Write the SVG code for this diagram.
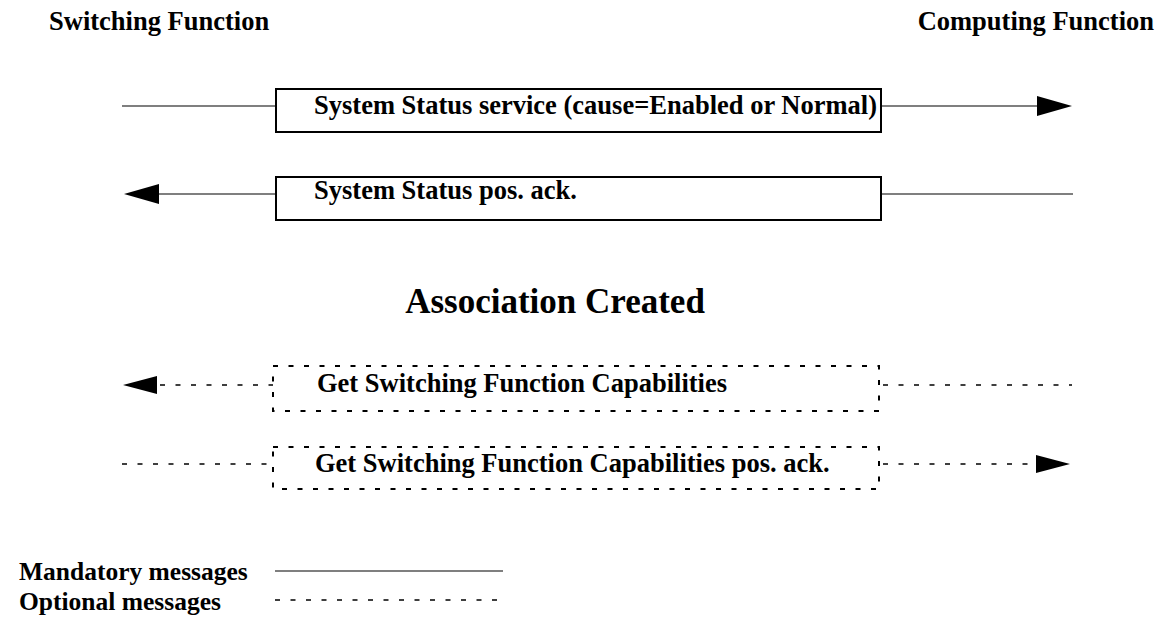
<svg xmlns="http://www.w3.org/2000/svg" width="1166" height="619" viewBox="0 0 1166 619">
<style>
.t{font-family:"Liberation Serif","Times New Roman",serif;font-weight:bold;fill:#000}
.f{font-size:26.5px}
.box{fill:none;stroke:#000;stroke-width:2}
.dbox{fill:none;stroke:#000;stroke-width:2;stroke-dasharray:5 10.5}
.ln{stroke:#000;stroke-width:1.2;fill:none}
.dl{stroke:#000;stroke-width:1.5;fill:none;stroke-dasharray:5 10.5}
.ah{fill:#000}
</style>
<rect width="1166" height="619" fill="#fff"/>
<g id="hdr-switching"><text class="t f" x="49" y="30">Switching Function</text></g>
<g id="hdr-computing"><text class="t f" x="1154" y="30" text-anchor="end">Computing Function</text></g>
<g id="msg1"><rect class="box" x="276" y="89" width="605" height="43"/><text class="t f" x="314" y="114">System Status service (cause=Enabled or Normal)</text></g>
<g id="msg2"><rect class="box" x="276" y="177" width="605" height="43"/><text class="t f" x="314" y="199">System Status pos. ack.</text></g>
<g id="assoc"><text class="t" font-size="35" x="555" y="313" text-anchor="middle">Association Created</text></g>
<g id="msg3"><rect class="dbox" x="273" y="366" width="606" height="45"/><text class="t f" x="317" y="392">Get Switching Function Capabilities</text></g>
<g id="msg4"><rect class="dbox" x="273" y="447" width="606" height="42"/><text class="t f" x="315" y="472">Get Switching Function Capabilities pos. ack.</text></g>
<g id="connectors">
<line class="ln" x1="122" y1="106" x2="276" y2="106"/>
<line class="ln" x1="881" y1="106" x2="1037" y2="106"/>
<polygon class="ah" points="1037,96 1072,106 1037,116"/>
<line class="ln" x1="159" y1="194" x2="276" y2="194"/>
<line class="ln" x1="881" y1="194" x2="1073" y2="194"/>
<polygon class="ah" points="159,184 124,194 159,204"/>
<line class="dl" x1="160" y1="385" x2="273" y2="385"/>
<line class="dl" x1="883" y1="385" x2="1072" y2="385"/>
<polygon class="ah" points="157,376 123,385 157,394"/>
<line class="dl" x1="122" y1="464" x2="273" y2="464"/>
<line class="dl" x1="883" y1="464" x2="1036" y2="464"/>
<polygon class="ah" points="1036,455 1070,464 1036,473"/>
</g>
<g id="legend">
<text class="t" font-size="25.5" x="19" y="580">Mandatory messages</text>
<text class="t" font-size="25.5" x="19" y="610">Optional messages</text>
<line class="ln" x1="275" y1="571" x2="503" y2="571" stroke-width="1.5"/>
<line class="dl" x1="275" y1="600" x2="503" y2="600"/>
</g>
</svg>
